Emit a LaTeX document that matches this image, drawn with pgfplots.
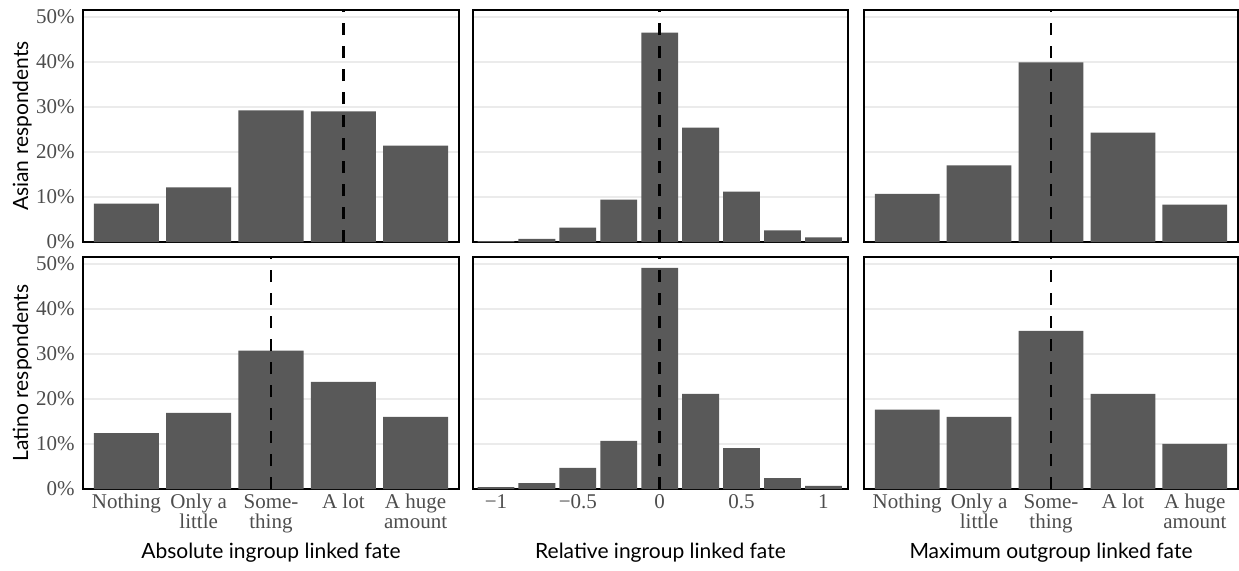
\documentclass[border=0pt]{standalone}
\usepackage{fontspec}
\setmainfont{Liberation Serif}
\newfontfamily\titlefont{Lato}
\usepackage{pgfplots}
\pgfplotsset{compat=1.18}
\definecolor{barc}{HTML}{595959}
\definecolor{gridc}{HTML}{EBEBEB}
\definecolor{tickc}{HTML}{4D4D4D}
\pgfplotsset{
  panel/.style={
    scale only axis, width=188pt, height=116pt,
    ymin=0, ymax=51.5, ytick={0,10,20,30,40,50}, yticklabels={},
    ymajorgrids, grid style={gridc, line width=1.1pt},
    major tick length=0pt,
    axis line style={line width=1pt, black},
    tick label style={tickc, font=\fontsize{10.5}{10}\selectfont},
    yticklabel style={inner xsep=4pt},
    xticklabel style={align=center, inner ysep=2.5pt, anchor=north},
    /pgf/number format/assume math mode=true,
    label style={font=\titlefont\fontsize{10.5}{12}\selectfont, black},
    xlabel style={at={(axis description cs:0.5,-0.276)}, anchor=center},
    ylabel style={at={(axis description cs:-0.162,0.5)}, anchor=center},
  },
  yl/.style={yticklabels={0\%,10\%,20\%,30\%,40\%,50\%}},
  cat/.style={xmin=0.4, xmax=5.6, xtick={1,2,3,4,5}},
  catlab/.style={xticklabels={Nothing,Only a\\little,Some-\\thing,A lot,A huge\\amount}},
  rel/.style={xmin=-1.14, xmax=1.15, xtick={-1,-0.5,0,0.5,1}},
  bars/.style={ybar, bar shift=0pt, fill=barc, draw=none},
  vline/.style={black, line width=1.3pt, dash pattern=on 6pt off 5.5pt},
}
\begin{document}
\begin{tikzpicture}
\useasboundingbox (0,0) rectangle (619.5pt,-285.5pt);
% Row 1: Asian
\begin{axis}[panel, yl, cat, xticklabels={}, ylabel={Asian respondents},
  at={(41.5pt,-5pt)}, anchor=north west]
\addplot[bars, bar width=0.9] coordinates {(1,8.5) (2,12.1) (3,29.2) (4,29.0) (5,21.4)};
\addplot[vline] coordinates {(4,0) (4,51.5)};
\end{axis}
\begin{axis}[panel, rel, xticklabels={}, width=187.5pt,
  at={(236.5pt,-5pt)}, anchor=north west]
\addplot[bars, bar width=0.225] coordinates {(-1,0.2) (-0.75,0.7) (-0.5,3.2) (-0.25,9.4) (0,46.5) (0.25,25.4) (0.5,11.2) (0.75,2.6) (1,1.0)};
\addplot[vline] coordinates {(0,0) (0,51.5)};
\end{axis}
\begin{axis}[panel, cat, xticklabels={}, width=187pt,
  at={(432pt,-5pt)}, anchor=north west]
\addplot[bars, bar width=0.9] coordinates {(1,10.7) (2,17.0) (3,39.9) (4,24.3) (5,8.3)};
\addplot[vline] coordinates {(3,0) (3,51.5)};
\end{axis}
% Row 2: Latino
\begin{axis}[panel, yl, cat, catlab, ylabel={Latino respondents},
  xlabel={Absolute ingroup linked fate},
  at={(41.5pt,-128.5pt)}, anchor=north west]
\addplot[bars, bar width=0.9] coordinates {(1,12.4) (2,16.9) (3,30.7) (4,23.8) (5,16.0)};
\addplot[vline] coordinates {(3,0) (3,51.5)};
\end{axis}
\begin{axis}[panel, rel, width=187.5pt, xticklabels={−1,−0.5,0,0.5,1},
  xlabel={Relative ingroup linked fate},
  at={(236.5pt,-128.5pt)}, anchor=north west]
\addplot[bars, bar width=0.225] coordinates {(-1,0.4) (-0.75,1.3) (-0.5,4.7) (-0.25,10.7) (0,49.1) (0.25,21.1) (0.5,9.1) (0.75,2.4) (1,0.7)};
\addplot[vline] coordinates {(0,0) (0,51.5)};
\end{axis}
\begin{axis}[panel, cat, catlab, width=187pt,
  xlabel={Maximum outgroup linked fate},
  at={(432pt,-128.5pt)}, anchor=north west]
\addplot[bars, bar width=0.9] coordinates {(1,17.6) (2,16.0) (3,35.1) (4,21.1) (5,10.0)};
\addplot[vline] coordinates {(3,0) (3,51.5)};
\end{axis}
\end{tikzpicture}
\end{document}
